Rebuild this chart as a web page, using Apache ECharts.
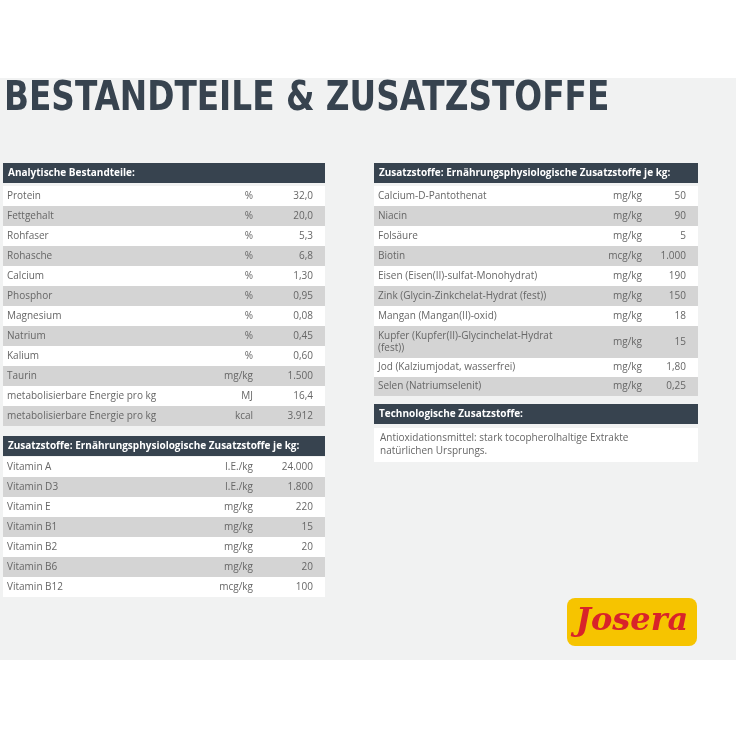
<!DOCTYPE html>
<html><head><meta charset="utf-8">
<script src="https://cdn.jsdelivr.net/npm/echarts@6/dist/echarts.min.js"></script>
<style>html,body{margin:0;padding:0;background:#fff}#c{width:736px;height:736px}</style>
</head><body><div id="c"></div>
<script>
// Analytische Bestandteile
var anaNames = ['Protein','Fettgehalt','Rohfaser','Rohasche','Calcium','Phosphor','Magnesium','Natrium','Kalium','Taurin','metabolisierbare Energie pro kg','metabolisierbare Energie pro kg'];
var anaUnits = ['%','%','%','%','%','%','%','%','%','mg/kg','MJ','kcal'];
var anaValues = ['32,0','20,0','5,3','6,8','1,30','0,95','0,08','0,45','0,60','1.500','16,4','3.912'];
// Vitamine
var vitNames = ['Vitamin A','Vitamin D3','Vitamin E','Vitamin B1','Vitamin B2','Vitamin B6','Vitamin B12'];
var vitUnits = ['I.E./kg','I.E./kg','mg/kg','mg/kg','mg/kg','mg/kg','mcg/kg'];
var vitValues = ['24.000','1.800','220','15','20','20','100'];
// Spurenelemente etc.
var zusNames = ['Calcium-D-Pantothenat','Niacin','Folsäure','Biotin','Eisen (Eisen(II)-sulfat-Monohydrat)','Zink (Glycin-Zinkchelat-Hydrat (fest))','Mangan (Mangan(II)-oxid)','Kupfer (Kupfer(II)-Glycinchelat-Hydrat\n(fest))','Jod (Kalziumjodat, wasserfrei)','Selen (Natriumselenit)'];
var zusUnits = ['mg/kg','mg/kg','mg/kg','mcg/kg','mg/kg','mg/kg','mg/kg','mg/kg','mg/kg','mg/kg'];
var zusValues = ['50','90','5','1.000','190','150','18','15','1,80','0,25'];
var zusHeights = [20,20,20,20,20,20,20,32,19,19];

var dark = '#37434f', grey = '#d4d4d4', txt = '#666';
var font = '"Open Sans", sans-serif';
var els = [];
els.push({type:'rect', shape:{x:0,y:78,width:736,height:582}, style:{fill:'#f1f2f2'}});
els.push({type:'text', x:4, y:80, scaleX:0.91, style:{text:'BESTANDTEILE & ZUSATZSTOFFE', fill:dark, font:'bold 40px "DejaVu Sans Condensed", sans-serif'}});

function header(x, y, w, label) {
  els.push({type:'rect', shape:{x:x,y:y,width:w,height:20}, style:{fill:dark}});
  els.push({type:'text', x:x+5, y:y+10, style:{text:label, fill:'#fff', font:'bold 10px '+font, textVerticalAlign:'middle'}});
}
function table(x, y, w, names, units, values, heights, ux, vx) {
  for (var i = 0; i < names.length; i++) {
    var h = heights ? heights[i] : 20;
    els.push({type:'rect', shape:{x:x,y:y,width:w,height:h}, style:{fill: i % 2 ? grey : '#fff'}});
    var cy = y + h / 2;
    els.push({type:'text', x:x+4, y:cy, style:{text:names[i], fill:txt, font:'10px '+font, textVerticalAlign:'middle', lineHeight:12}});
    els.push({type:'text', x:ux, y:cy, style:{text:units[i], fill:txt, font:'10px '+font, textAlign:'right', textVerticalAlign:'middle'}});
    els.push({type:'text', x:vx, y:cy, style:{text:values[i], fill:txt, font:'10px '+font, textAlign:'right', textVerticalAlign:'middle'}});
    y += h;
  }
}
header(3, 163, 322, 'Analytische Bestandteile:');
table(3, 186, 322, anaNames, anaUnits, anaValues, null, 253, 313);
header(3, 436, 322, 'Zusatzstoffe: Ernährungsphysiologische Zusatzstoffe je kg:');
table(3, 457, 322, vitNames, vitUnits, vitValues, null, 253, 313);
header(374, 163, 324, 'Zusatzstoffe: Ernährungsphysiologische Zusatzstoffe je kg:');
table(374, 186, 324, zusNames, zusUnits, zusValues, zusHeights, 642, 686);
header(374, 404, 324, 'Technologische Zusatzstoffe:');
els.push({type:'rect', shape:{x:374,y:428,width:324,height:34}, style:{fill:'#fff'}});
els.push({type:'text', x:380, y:445, style:{text:'Antioxidationsmittel: stark tocopherolhaltige Extrakte\nnatürlichen Ursprungs.', fill:txt, font:'10px '+font, textVerticalAlign:'middle', lineHeight:13}});
// logo
els.push({type:'rect', shape:{x:567,y:598,width:130,height:48,r:8}, style:{fill:'#f6c400'}});
els.push({type:'text', x:632, y:622, style:{text:'Josera', fill:'#d8232a', font:'italic bold 32px "DejaVu Serif", serif', textAlign:'center', textVerticalAlign:'middle'}});

var chart = echarts.init(document.getElementById('c'));
chart.setOption({animation:false, graphic:{elements:els}});
</script></body></html>
